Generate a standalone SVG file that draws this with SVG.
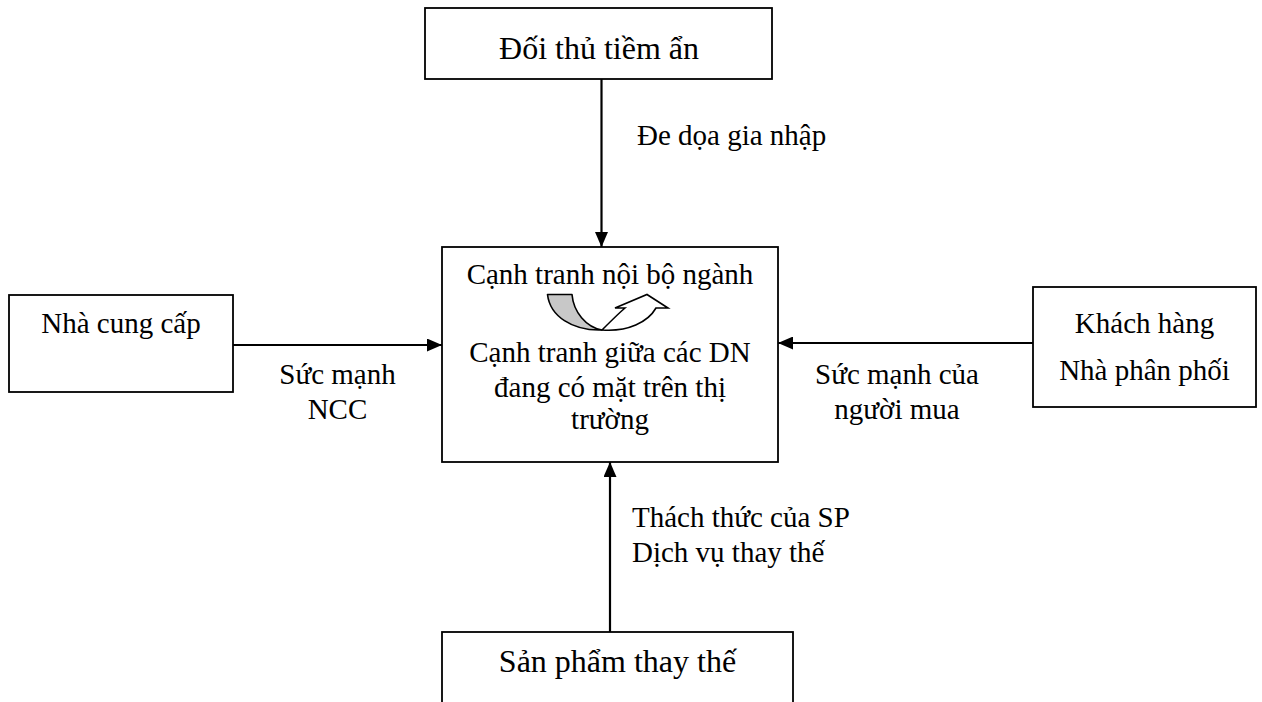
<svg xmlns="http://www.w3.org/2000/svg" width="1262" height="702" viewBox="0 0 1262 702">
  <defs>
    <marker id="arrowhead" viewBox="0 0 15 13" refX="15" refY="6.5" markerWidth="15" markerHeight="13" markerUnits="userSpaceOnUse" orient="auto">
      <path d="M0,0 L15,6.5 L0,13 Z" fill="#000"/>
    </marker>
  </defs>
  <style>
    .box { fill: #fff; stroke: #000; stroke-width: 1.8; }
    .txt { font-family: "Liberation Serif", "Times New Roman", serif; font-size: 29px; fill: #000; }
    .big { font-size: 32px; }
    .mid { text-anchor: middle; }
    .link { stroke: #000; stroke-width: 2.2; fill: none; marker-end: url(#arrowhead); }
  </style>
  <rect width="1262" height="702" fill="#fff"/>

  <!-- connectors -->
  <g id="connectors">
    <line class="link" x1="601.5" y1="79" x2="601.5" y2="247"/>
    <line class="link" x1="233" y1="345" x2="442" y2="345"/>
    <line class="link" x1="1033" y1="343" x2="778" y2="343"/>
    <line class="link" x1="610" y1="632" x2="610" y2="462"/>
    <text class="txt" x="637" y="145">Đe dọa gia nhập</text>
    <text class="txt mid" x="337.5" y="384">Sức mạnh</text>
    <text class="txt mid" x="337.5" y="419">NCC</text>
    <text class="txt mid" x="897" y="384">Sức mạnh của</text>
    <text class="txt mid" x="897" y="419">người mua</text>
    <text class="txt" x="632" y="527">Thách thức của SP</text>
    <text class="txt" x="632" y="562">Dịch vụ thay thế</text>
  </g>

  <!-- potential entrants -->
  <g id="node-doi-thu">
    <rect class="box" x="425" y="8" width="347" height="71"/>
    <text class="txt big mid" x="599" y="59">Đối thủ tiềm ẩn</text>
  </g>

  <!-- suppliers -->
  <g id="node-nha-cung-cap">
    <rect class="box" x="9" y="295" width="224" height="97"/>
    <text class="txt mid" x="121" y="333">Nhà cung cấp</text>
  </g>

  <!-- buyers -->
  <g id="node-khach-hang">
    <rect class="box" x="1033" y="287" width="223" height="120"/>
    <text class="txt mid" x="1144.5" y="333">Khách hàng</text>
    <text class="txt mid" x="1144.5" y="380">Nhà phân phối</text>
  </g>

  <!-- industry rivalry -->
  <g id="node-canh-tranh">
    <rect class="box" x="442" y="247" width="336" height="215"/>
    <text class="txt mid" x="610" y="284">Cạnh tranh nội bộ ngành</text>
    <path d="M547.5,294.5 L572,294.5 C573.5,312 586,327 602,330 C572,331 550,316 547.5,294.5 Z" fill="#c8c8c8" stroke="#000" stroke-width="1.6" stroke-linejoin="round"/>
    <path d="M602,330 C610,322 619,313 625,308 L615,308 L647,294.5 L668,308 L656,308 C648,322 628,332 602,330 Z" fill="#fff" stroke="#000" stroke-width="1.6" stroke-linejoin="miter"/>
    <text class="txt mid" x="610" y="362">Cạnh tranh giữa các DN</text>
    <text class="txt mid" x="610" y="397">đang có mặt trên thị</text>
    <text class="txt mid" x="610" y="429">trường</text>
  </g>

  <!-- substitutes -->
  <g id="node-san-pham-thay-the">
    <rect class="box" x="442" y="632" width="351" height="80"/>
    <text class="txt big mid" x="617.5" y="672">Sản phẩm thay thế</text>
  </g>
</svg>
